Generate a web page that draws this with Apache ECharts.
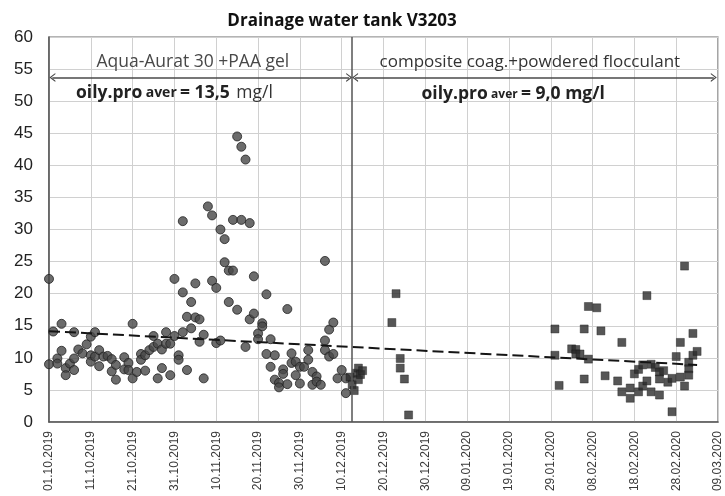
<!DOCTYPE html>
<html>
<head>
<meta charset="utf-8">
<script src="https://cdn.jsdelivr.net/npm/echarts@6/dist/echarts.min.js"></script>
<style>
  html, body { margin: 0; padding: 0; background: #fff; }
  #chart { width: 725px; height: 496px; }
</style>
</head>
<body>
<div id="chart"></div>
<script>
// Sampling dates are stored as day offsets from 01.10.2019.
const START_DATE_UTC = Date.UTC(2019, 9, 1);

// Period 1: Aqua-Aurat 30 + PAA gel  [day, oil products mg/l]
const period1Points = [
  [0, 22.3], [0, 9.0], [1, 14.1], [2, 9.9], [2, 9.1], [3, 15.3], [3, 11.1], [4, 8.4], [4, 7.3],
  [5, 9.1], [6, 9.9], [6, 8.1], [6, 14.0], [7, 11.3], [8, 10.7], [9, 12.1], [10, 13.3],
  [10, 10.4], [10, 9.4], [11, 14.0], [11, 10.2], [12, 11.2], [12, 8.7], [13, 10.2], [14, 10.3],
  [15, 9.8], [15, 7.9], [16, 8.9], [16, 6.6], [18, 10.1], [18, 8.2], [19, 9.2], [19, 8.1],
  [20, 15.3], [20, 6.8], [21, 7.8], [22, 10.6], [22, 9.7], [23, 8.0], [23, 10.4], [24, 11.2],
  [25, 13.4], [25, 11.7], [26, 12.2], [26, 6.8], [27, 8.4], [27, 11.3], [28, 14.0], [28, 12.2],
  [29, 7.3], [29, 12.2], [30, 13.4], [30, 22.3], [31, 10.4], [31, 9.7], [32, 14.0], [32, 31.3],
  [32, 20.2], [33, 8.1], [33, 16.4], [34, 14.6], [34, 18.7], [35, 16.3], [35, 21.6], [36, 16.0],
  [36, 12.5], [37, 6.8], [37, 13.6], [38, 33.6], [39, 32.2], [39, 22.0], [40, 20.9], [40, 12.3],
  [41, 30.0], [41, 12.7], [42, 28.5], [42, 24.9], [43, 23.6], [43, 18.7], [44, 23.6], [44, 31.5],
  [45, 44.5], [45, 17.5], [46, 42.9], [46, 31.5], [47, 40.9], [47, 11.7], [48, 31.0], [48, 16.0],
  [49, 22.7], [49, 16.9], [50, 13.8], [50, 12.9], [51, 15.4], [51, 14.9], [52, 19.9], [52, 10.6],
  [53, 12.9], [53, 8.6], [54, 10.4], [54, 6.6], [55, 6.1], [55, 5.4], [56, 8.2], [56, 7.5],
  [57, 17.6], [57, 5.9], [58, 10.7], [58, 9.2], [59, 9.4], [59, 7.3], [60, 8.6], [60, 6.0],
  [61, 8.6], [62, 9.7], [62, 11.2], [63, 7.8], [63, 5.8], [64, 7.1], [64, 6.3], [65, 5.8],
  [66, 25.1], [66, 12.7], [66, 11.2], [67, 14.4], [67, 10.2], [68, 15.5], [68, 10.6], [69, 6.8],
  [70, 8.1], [71, 4.5], [71, 6.8]
];

// Period 2: composite coagulant + powdered flocculant  [day, oil products mg/l]
const period2Points = [
  [72, 7.0], [72.5, 5.8], [73, 4.9], [73.5, 7.6], [74, 8.4], [74, 6.6], [74.5, 7.4], [75, 8.0],
  [82, 15.5], [83, 20.0], [84, 9.9], [84, 8.4], [85, 6.7], [86, 1.1],
  [121, 14.5], [121, 10.4], [122, 5.7], [125, 11.4], [126, 11.3], [126, 10.6], [127, 10.6],
  [128, 14.5], [128, 6.7], [129, 18.0], [129, 9.8], [131, 17.8], [132, 14.2], [133, 7.2],
  [136, 6.4], [137, 12.4], [137, 4.7], [139, 5.3], [139, 3.7], [140, 7.5], [141, 8.2], [141, 4.7],
  [142, 8.9], [142, 5.6], [143, 19.7], [143, 6.4], [144, 9.0], [144, 4.7], [145, 8.5], [146, 7.8],
  [146, 6.7], [146, 4.2], [147, 8.0], [148, 6.2], [149, 6.8], [149, 1.6], [150, 10.2], [151, 12.4],
  [151, 7.0], [152, 24.3], [152, 5.6], [153, 9.3], [153, 8.3], [153, 7.3], [154, 13.8],
  [154, 10.4], [155, 11.0]
];

// Linear trend across both periods
const trendLine = [[0, 14.15], [155, 8.9]];

// Day on which the treatment changed
const switchDay = 72.5;

// Axis ranges
const dayRange = [0, 160];
const dayStep = 10;
const valueRange = [0, 60];
const valueStep = 5;

const pad2 = n => (n < 10 ? '0' : '') + n;
function dayToLabel(day) {
  const d = new Date(START_DATE_UTC + day * 86400000);
  return pad2(d.getUTCDate()) + '.' + pad2(d.getUTCMonth() + 1) + '.' + d.getUTCFullYear();
}

const chevron = 'path://M5,0 L10,10 L8.4,10 L5,3 L1.6,10 L0,10 Z';
const annoFont = '"Open Sans", sans-serif';

const chart = echarts.init(document.getElementById('chart'), null, { renderer: 'canvas' });

chart.setOption({
  animation: false,
  backgroundColor: '#ffffff',
  title: {
    text: 'Drainage water tank V3203',
    left: 337,
    top: 8,
    textAlign: 'center',
    textStyle: { fontFamily: annoFont, fontWeight: 'bold', fontSize: 17, color: '#111' }
  },
  grid: {
    left: 49, right: 7, top: 37, bottom: 74,
    show: true, borderColor: '#6a6a6a', borderWidth: 1.2
  },
  xAxis: {
    type: 'value',
    min: dayRange[0], max: dayRange[1], interval: dayStep,
    axisLine: { show: true, lineStyle: { color: '#555', width: 1.5 } },
    axisTick: { show: false },
    splitLine: { show: true, lineStyle: { color: '#d0d0d0', width: 1 } },
    axisLabel: {
      rotate: 90,
      margin: 9,
      fontFamily: '"Liberation Sans", Arial, sans-serif',
      fontSize: 12,
      color: '#3a3a3a',
      formatter: dayToLabel
    }
  },
  yAxis: {
    type: 'value',
    min: valueRange[0], max: valueRange[1], interval: valueStep,
    axisLine: { show: true, lineStyle: { color: '#555', width: 1.5 } },
    axisTick: { show: false },
    splitLine: { show: true, lineStyle: { color: '#d0d0d0', width: 1 } },
    axisLabel: {
      margin: 16,
      fontFamily: '"Liberation Sans", Arial, sans-serif',
      fontSize: 17,
      color: '#222'
    }
  },
  series: [
    {
      name: 'Aqua-Aurat 30 + PAA gel',
      type: 'scatter',
      symbol: 'circle',
      symbolSize: 9,
      itemStyle: { color: '#474747', borderColor: '#222', borderWidth: 1 },
      data: period1Points,
      z: 3
    },
    {
      name: 'composite coag. + powdered flocculant',
      type: 'scatter',
      symbol: 'rect',
      symbolSize: 8,
      itemStyle: { color: '#2c2c2c', borderColor: '#1a1a1a', borderWidth: 0.5 },
      data: period2Points,
      z: 3
    },
    {
      name: 'trend',
      type: 'line',
      data: trendLine,
      symbol: 'none',
      lineStyle: { color: '#151515', width: 2, type: [11, 5] },
      z: 4,
      silent: true
    },
    {
      name: 'annotations',
      type: 'scatter',
      data: [],
      silent: true,
      markLine: {
        silent: true,
        animation: false,
        label: { show: false },
        data: [
          [{ coord: [0.8, 53.7], symbol: chevron }, { coord: [71.8, 53.7], symbol: chevron }],
          [{ coord: [73.2, 53.7], symbol: chevron }, { coord: [159, 53.7], symbol: chevron }]
        ],
        symbolSize: [9, 6],
        lineStyle: { color: '#4a4a4a', width: 1.5, type: 'solid' },
        emphasis: { disabled: true }
      },
      markPoint: {
        silent: true,
        animation: false,
        symbol: 'circle',
        symbolSize: 1,
        itemStyle: { color: 'rgba(0,0,0,0)' },
        label: { show: true, position: 'inside' },
        data: [
          {
            coord: [34.4, 56.1],
            label: { formatter: 'Aqua-Aurat 30 +PAA gel', fontFamily: annoFont, fontSize: 17.5, color: '#484848' }
          },
          {
            coord: [115, 56.1],
            label: { formatter: 'composite coag.+powdered flocculant', fontFamily: annoFont, fontSize: 17, color: '#333' }
          },
          {
            coord: [30, 51.2],
            label: {
              formatter: '{b|oily.pro} {s|aver} {b|= 13,5}  {r|mg/l}',
              rich: {
                b: { fontFamily: annoFont, fontWeight: 'bold', fontSize: 17.5, color: '#222' },
                s: { fontFamily: annoFont, fontWeight: 'bold', fontSize: 14, color: '#222' },
                r: { fontFamily: annoFont, fontSize: 17.5, color: '#333' }
              }
            }
          },
          {
            coord: [111, 51.1],
            label: {
              formatter: '{b|oily.pro} {s|aver} {b|= 9,0 mg/l}',
              rich: {
                b: { fontFamily: annoFont, fontWeight: 'bold', fontSize: 17.5, color: '#222' },
                s: { fontFamily: annoFont, fontWeight: 'bold', fontSize: 12, color: '#222' }
              }
            }
          }
        ]
      }
    },
    {
      name: 'switch',
      type: 'scatter',
      data: [],
      silent: true,
      markLine: {
        silent: true,
        animation: false,
        symbol: 'none',
        label: { show: false },
        lineStyle: { color: '#555', width: 1.5, type: 'solid' },
        data: [{ xAxis: switchDay }]
      }
    }
  ]
});
</script>
</body>
</html>
